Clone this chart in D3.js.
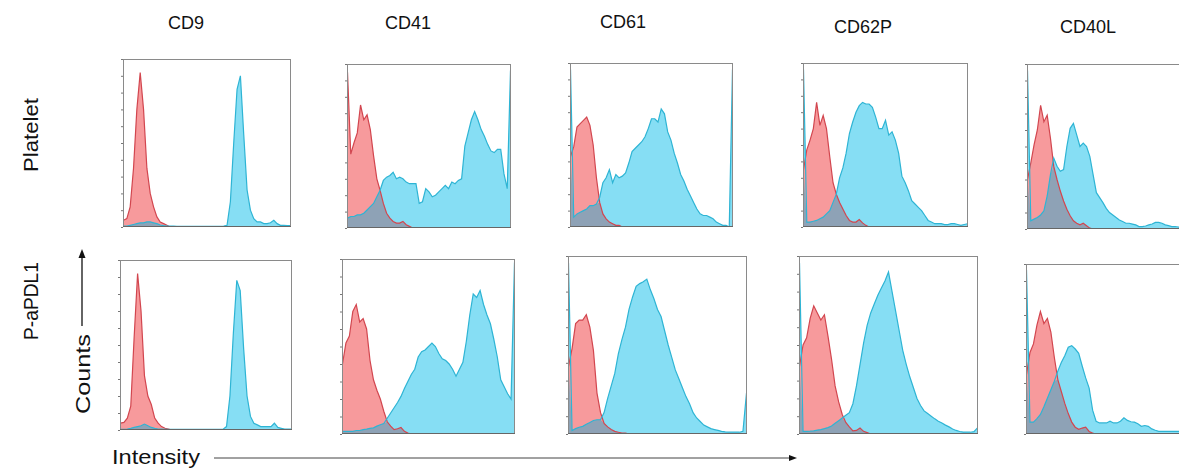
<!DOCTYPE html>
<html><head><meta charset="utf-8">
<script src="https://cdn.jsdelivr.net/npm/d3@7"></script>
<style>body{margin:0;background:#fff}svg{display:block}</style>
</head><body><svg id="c" width="1179" height="468"></svg>
<script>
const markers = ["CD9","CD41","CD61","CD62P","CD40L"];
const rows = ["Platelet","P-aPDL1"];
// 51 bins (normalized intensity 0..1), normalized counts 0..1
const z = n => Array(n).fill(0);
const red_CD9_P   = [0.04,0.05,0.12,0.35,0.70,0.92,0.70,0.35,0.20,0.12,0.06,0.03,0.02,0.01, ...z(37)];
const cyan_CD9_P  = [0.005,0.005,0.01,0.015,0.02,0.025,0.025,0.03,0.03,0.025,0.02,0.012,0.008,0.006,0.005,0.005,0.004,0.004,0.004,0.004,0.004,0.004,0.004,0.004,0.004,0.004,0.004,0.004,0.004,0.004,0.006,0.01,0.15,0.50,0.82,0.90,0.55,0.22,0.10,0.05,0.03,0.03,0.02,0.02,0.025,0.04,0.02,0.01,0.01,0.008,0.008];
const red_CD41_P  = [0.95,0.45,0.52,0.58,0.75,0.66,0.69,0.60,0.44,0.30,0.23,0.15,0.09,0.06,0.04,0.03,0.03,0.04,0.02,0.01, ...z(31)];
const cyan_CD41_P = [0.06,0.07,0.07,0.08,0.08,0.09,0.11,0.13,0.15,0.19,0.23,0.29,0.31,0.32,0.34,0.30,0.31,0.30,0.28,0.27,0.27,0.27,0.15,0.16,0.24,0.22,0.19,0.20,0.22,0.24,0.26,0.24,0.28,0.27,0.29,0.30,0.50,0.58,0.66,0.71,0.66,0.60,0.56,0.51,0.47,0.46,0.48,0.48,0.33,0.24,0.96];
const red_CD61_P  = [0.43,0.49,0.61,0.63,0.65,0.67,0.62,0.50,0.30,0.15,0.08,0.05,0.03,0.02,0.01,0.01, ...z(35)];
const cyan_CD61_P = [0.96,0.06,0.08,0.09,0.10,0.11,0.13,0.13,0.14,0.18,0.27,0.30,0.35,0.27,0.32,0.30,0.31,0.33,0.39,0.46,0.48,0.50,0.52,0.55,0.60,0.66,0.66,0.64,0.72,0.69,0.58,0.53,0.45,0.39,0.32,0.28,0.23,0.19,0.15,0.11,0.08,0.07,0.07,0.06,0.05,0.03,0.02,0.01,0.01,0.0,0.96];
const red_CD62P_P = [0.35,0.47,0.53,0.60,0.76,0.62,0.68,0.60,0.43,0.27,0.20,0.15,0.11,0.07,0.04,0.03,0.03,0.045,0.025,0.01, ...z(31)];
const cyan_CD62P_P= [0.96,0.03,0.03,0.035,0.04,0.05,0.06,0.08,0.10,0.15,0.20,0.30,0.36,0.45,0.57,0.64,0.70,0.74,0.76,0.75,0.75,0.73,0.67,0.60,0.60,0.65,0.56,0.58,0.53,0.45,0.31,0.27,0.22,0.16,0.14,0.12,0.10,0.07,0.04,0.03,0.02,0.02,0.02,0.015,0.015,0.02,0.02,0.015,0.01,0.015,0.02];
const red_CD40L_P = [0.30,0.40,0.51,0.60,0.75,0.65,0.69,0.55,0.38,0.30,0.23,0.17,0.12,0.08,0.05,0.035,0.025,0.035,0.02,0.005, ...z(31)];
const cyan_CD40L_P= [0.96,0.05,0.06,0.07,0.085,0.11,0.20,0.33,0.43,0.38,0.35,0.36,0.50,0.61,0.64,0.57,0.50,0.52,0.50,0.44,0.33,0.22,0.19,0.16,0.125,0.10,0.085,0.07,0.055,0.045,0.035,0.035,0.03,0.025,0.015,0.015,0.018,0.025,0.03,0.04,0.04,0.035,0.025,0.02,0.015,0.015,0.012,0.01,0.01,0.01,0.01];
const red_CD9_A   = [0.04,0.045,0.07,0.14,0.55,0.92,0.70,0.32,0.20,0.15,0.07,0.04,0.02,0.01,0.005, ...z(36)];
const cyan_CD9_A  = [0.004,0.004,0.006,0.01,0.015,0.02,0.025,0.035,0.025,0.015,0.01,0.006,0.005,0.004,0.004,0.004,0.004,0.004,0.004,0.004,0.004,0.004,0.004,0.004,0.004,0.004,0.004,0.004,0.004,0.004,0.005,0.02,0.20,0.57,0.88,0.82,0.48,0.20,0.08,0.04,0.03,0.02,0.02,0.02,0.02,0.04,0.015,0.01,0.005,0.005,0.005];
const red_CD41_A  = [0.40,0.52,0.56,0.70,0.74,0.64,0.66,0.60,0.42,0.31,0.25,0.20,0.13,0.07,0.045,0.025,0.03,0.037,0.015,0.005, ...z(31)];
const cyan_CD41_A = [0.015,0.015,0.015,0.015,0.02,0.02,0.025,0.028,0.032,0.035,0.045,0.053,0.06,0.09,0.12,0.15,0.18,0.215,0.26,0.30,0.34,0.37,0.44,0.47,0.48,0.50,0.52,0.50,0.46,0.43,0.42,0.40,0.37,0.33,0.37,0.41,0.53,0.68,0.80,0.78,0.82,0.74,0.68,0.63,0.54,0.44,0.31,0.27,0.23,0.20,0.98];
const red_CD61_A  = [0.38,0.48,0.62,0.64,0.64,0.67,0.60,0.47,0.23,0.12,0.06,0.04,0.025,0.015,0.01,0.005,0.005, ...z(34)];
const cyan_CD61_A = [0.96,0.02,0.03,0.038,0.043,0.055,0.065,0.076,0.08,0.08,0.12,0.20,0.27,0.34,0.45,0.53,0.60,0.70,0.77,0.83,0.845,0.855,0.87,0.81,0.76,0.70,0.66,0.58,0.50,0.43,0.36,0.31,0.26,0.21,0.17,0.12,0.09,0.07,0.05,0.04,0.03,0.025,0.02,0.015,0.012,0.01,0.01,0.01,0.01,0.015,0.23];
const red_CD62P_A = [0.38,0.50,0.54,0.65,0.72,0.68,0.64,0.67,0.55,0.42,0.27,0.18,0.11,0.065,0.04,0.018,0.02,0.034,0.015,0.008, ...z(31)];
const cyan_CD62P_A= [0.96,0.015,0.015,0.016,0.018,0.022,0.025,0.03,0.036,0.045,0.06,0.075,0.09,0.105,0.12,0.17,0.27,0.39,0.51,0.61,0.68,0.73,0.78,0.82,0.86,0.91,0.80,0.69,0.58,0.47,0.39,0.32,0.26,0.20,0.16,0.13,0.115,0.10,0.085,0.072,0.062,0.05,0.04,0.028,0.02,0.014,0.011,0.01,0.01,0.013,0.034];
const red_CD40L_A = [0.35,0.48,0.53,0.64,0.72,0.65,0.68,0.60,0.45,0.32,0.25,0.18,0.12,0.07,0.04,0.028,0.035,0.04,0.015,0.005, ...z(31)];
const cyan_CD40L_A= [0.965,0.07,0.07,0.09,0.115,0.16,0.21,0.26,0.31,0.37,0.42,0.46,0.51,0.52,0.50,0.475,0.40,0.33,0.27,0.14,0.075,0.065,0.065,0.065,0.075,0.065,0.065,0.075,0.095,0.08,0.072,0.07,0.06,0.045,0.05,0.045,0.03,0.022,0.016,0.016,0.015,0.015,0.015,0.015,0.015,0.015,0.015,0.015,0.015,0.015,0.015];

const redSeries  = [[red_CD9_P,red_CD41_P,red_CD61_P,red_CD62P_P,red_CD40L_P],[red_CD9_A,red_CD41_A,red_CD61_A,red_CD62P_A,red_CD40L_A]];
const cyanSeries = [[cyan_CD9_P,cyan_CD41_P,cyan_CD61_P,cyan_CD62P_P,cyan_CD40L_P],[cyan_CD9_A,cyan_CD41_A,cyan_CD61_A,cyan_CD62P_A,cyan_CD40L_A]];

// layout (panel boxes: left, top, width, height)
const boxes = [
  [[123,59,168,168],[347,64,164,164],[570,63,163,164],[803,63,165,164],[1027,64,165,165]],
  [[120,260,172,170],[342,259,173,175],[568,256,179,178],[799,256,179,178],[1026,264,175,170]]
];
const titlePos = [[186,29],[408,29],[623,28],[863,33],[1088,33]];

const svg = d3.select("#c");
const font = "Liberation Sans, Arial, sans-serif";
const defs = svg.append("defs");

const RED_FILL="#f79a9c", RED_LINE="#d2464f", CY_FILL="#86def4", CY_LINE="#2eb4d4", OV_FILL="#8ea2b6";

rows.forEach((r, ri) => {
  markers.forEach((m, ci) => {
    const [bx, by, bw, bh] = boxes[ri][ci];
    const red = redSeries[ri][ci], cyan = cyanSeries[ri][ci];
    const n = red.length;
    const x = d3.scaleLinear().domain([0, n - 1]).range([bx + 0.5, bx + bw - 0.5]);
    const y = d3.scaleLinear().domain([0, 1]).range([by + bh, by]);
    const id = `clip${ri}${ci}`;
    defs.append("clipPath").attr("id", id).append("rect").attr("x", bx).attr("y", by).attr("width", bw).attr("height", bh);
    const g = svg.append("g");
    const pg = g.append("g").attr("clip-path", `url(#${id})`);
    const area = d3.area().x((d, i) => x(i)).y0(y(0)).y1(d => y(d));
    const line = d3.line().x((d, i) => x(i)).y(d => y(d));
    const ov = red.map((v, i) => Math.min(v, cyan[i]));
    pg.append("path").datum(cyan).attr("d", area).attr("fill", CY_FILL);
    pg.append("path").datum(red).attr("d", area).attr("fill", RED_FILL);
    pg.append("path").datum(ov).attr("d", area).attr("fill", OV_FILL);
    pg.append("path").datum(red).attr("d", line).attr("fill", "none").attr("stroke", RED_LINE).attr("stroke-width", 1.2);
    pg.append("path").datum(cyan).attr("d", line).attr("fill", "none").attr("stroke", CY_LINE).attr("stroke-width", 1.2);
    const yt = d3.scaleLinear().domain([0, 1]).range([by + bh, by]);
    g.append("g").attr("transform", `translate(${bx},0)`)
      .call(d3.axisLeft(yt).ticks(12).tickSize(2).tickFormat(""))
      .call(s => s.selectAll("line").attr("stroke", "#777"))
      .call(s => s.select(".domain").remove());
    g.append("rect").attr("x", bx + 0.5).attr("y", by + 0.5).attr("width", bw - 1).attr("height", bh - 1)
      .attr("fill", "none").attr("stroke", "#8a8a8a").attr("stroke-width", 1);
    g.append("line").attr("x1", bx).attr("x2", bx + bw).attr("y1", by + bh - 0.5).attr("y2", by + bh - 0.5)
      .attr("stroke", "#666").attr("stroke-width", 1.2);
  });
});

markers.forEach((m, i) => {
  svg.append("text").attr("x", titlePos[i][0]).attr("y", titlePos[i][1]).attr("text-anchor", "middle")
    .attr("font-family", font).attr("font-size", 18).attr("fill", "#111").text(m);
});
const rowY = [135, 301];
const rowLen = [74, 78];
rows.forEach((r, i) => {
  svg.append("text").attr("transform", `translate(38,${rowY[i]}) rotate(-90)`).attr("text-anchor", "middle")
    .attr("font-family", font).attr("font-size", 20).attr("fill", "#111")
    .attr("textLength", rowLen[i]).attr("lengthAdjust", "spacingAndGlyphs").text(r);
});
svg.append("text").attr("transform", "translate(90,374) rotate(-90)").attr("text-anchor", "middle")
  .attr("font-family", font).attr("font-size", 21).attr("fill", "#111")
  .attr("textLength", 80).attr("lengthAdjust", "spacingAndGlyphs").text("Counts");
svg.append("line").attr("x1", 82).attr("x2", 82).attr("y1", 326).attr("y2", 256).attr("stroke", "#111").attr("stroke-width", 1.3);
svg.append("path").attr("d", "M82,249 L78.5,258 L85.5,258 Z").attr("fill", "#111");
svg.append("text").attr("x", 112).attr("y", 464).attr("font-family", font).attr("font-size", 21).attr("fill", "#111")
  .attr("textLength", 88).attr("lengthAdjust", "spacingAndGlyphs").text("Intensity");
svg.append("line").attr("x1", 214).attr("x2", 790).attr("y1", 458).attr("y2", 458).attr("stroke", "#444").attr("stroke-width", 1);
svg.append("path").attr("d", "M797,458 L789,455 L789,461 Z").attr("fill", "#111");
</script></body></html>
